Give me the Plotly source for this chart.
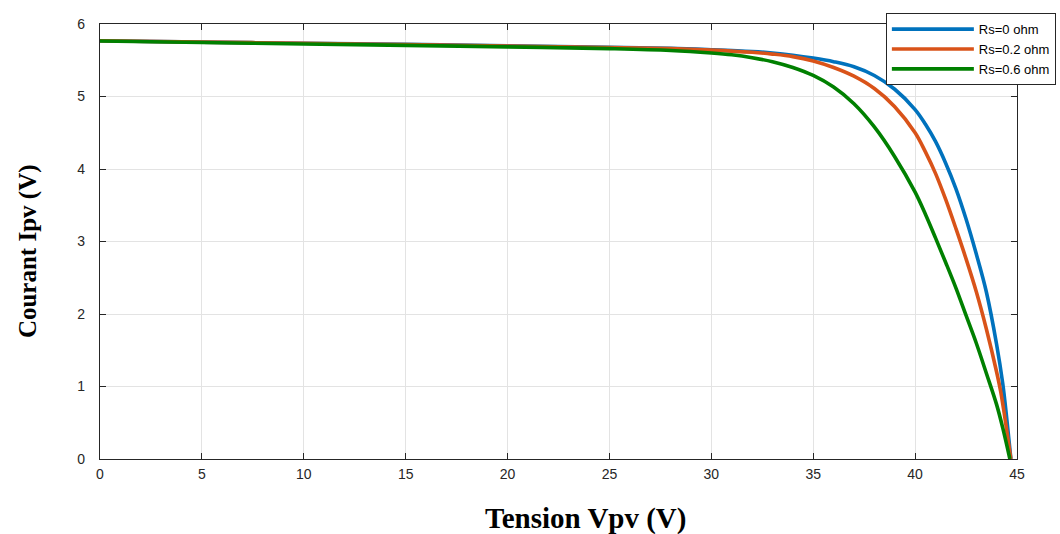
import plotly.graph_objects as go

# Rs = 0 ohm
v_rs0 = [0, 5, 10, 15, 20, 25, 28, 30, 32, 33, 34, 35, 36, 37, 38, 39, 40, 40.5, 41, 41.5, 42, 42.5, 43, 43.5, 44, 44.3, 44.5, 44.7]
i_rs0 = [5.77, 5.75, 5.735, 5.72, 5.70, 5.68, 5.665, 5.645, 5.62, 5.60, 5.57, 5.53, 5.48, 5.41, 5.29, 5.10, 4.82, 4.62, 4.38, 4.08, 3.73, 3.31, 2.83, 2.30, 1.58, 1.04, 0.55, 0.0]

# Rs = 0.2 ohm
v_rs02 = [0, 5, 10, 15, 20, 25, 28, 30, 32, 33, 34, 35, 36, 37, 38, 39, 40, 40.5, 41, 41.5, 42, 42.5, 43, 43.5, 44, 44.2, 44.4, 44.7]
i_rs02 = [5.77, 5.75, 5.735, 5.715, 5.695, 5.675, 5.66, 5.64, 5.61, 5.585, 5.55, 5.49, 5.40, 5.28, 5.11, 4.86, 4.50, 4.24, 3.94, 3.58, 3.18, 2.76, 2.31, 1.79, 1.20, 0.93, 0.58, 0.0]

# Rs = 0.6 ohm
v_rs06 = [0, 5, 10, 15, 20, 25, 28, 30, 31, 32, 33, 34, 35, 36, 37, 38, 39, 40, 40.5, 41, 41.5, 42, 42.5, 43, 43.5, 44, 44.3, 44.65]
i_rs06 = [5.765, 5.745, 5.725, 5.705, 5.685, 5.66, 5.635, 5.60, 5.575, 5.535, 5.48, 5.40, 5.29, 5.13, 4.90, 4.58, 4.17, 3.68, 3.38, 3.05, 2.71, 2.36, 1.98, 1.60, 1.18, 0.75, 0.43, 0.0]

names = ["Rs=0 ohm", "Rs=0.2 ohm", "Rs=0.6 ohm"]
colors = ["#0072BD", "#D95319", "#008000"]

x_ticks = [0, 5, 10, 15, 20, 25, 30, 35, 40, 45]
y_ticks = [0, 1, 2, 3, 4, 5, 6]

fig = go.Figure()
for v, i, n, c in zip([v_rs0, v_rs02, v_rs06], [i_rs0, i_rs02, i_rs06], names, colors):
    fig.add_trace(go.Scatter(x=v, y=i, mode="lines", name=n,
                             line=dict(color=c, width=3.6, shape="spline", smoothing=1.0)))

axis_common = dict(
    showline=True, linecolor="#262626", linewidth=1.2, mirror="allticks",
    ticks="inside", ticklen=6, tickcolor="#262626", tickwidth=1,
    showgrid=True, gridcolor="#e3e3e3", gridwidth=1, zeroline=False,
    tickfont=dict(family="Liberation Sans, Arial", size=14, color="#262626"),
)

fig.update_layout(
    width=1060, height=534,
    margin=dict(l=100, r=43, t=24, b=75, autoexpand=False),
    paper_bgcolor="white", plot_bgcolor="white",
    xaxis=dict(range=[0, 45], tickvals=x_ticks, ticktext=[str(t) for t in x_ticks],
               ticklabelstandoff=2, **axis_common),
    yaxis=dict(range=[0, 6], tickvals=y_ticks, ticktext=[str(t) for t in y_ticks],
               ticklabelstandoff=11, **axis_common),
    legend=dict(x=0.857, y=1.025, xanchor="left", yanchor="top",
                bgcolor="white", bordercolor="#262626", borderwidth=1,
                font=dict(family="Liberation Sans, Arial", size=13, color="black"),
                itemwidth=82, tracegroupgap=0),
    showlegend=True,
    annotations=[
        dict(text="<b>Tension Vpv (V)</b>", xref="paper", yref="paper", x=0.529, y=-0.136,
             xanchor="center", yanchor="middle", showarrow=False,
             font=dict(family="Liberation Serif, Times New Roman", size=29, color="black")),
        dict(text="<b>Courant Ipv (V)</b>", xref="paper", yref="paper", x=-0.0785, y=0.478,
             xanchor="center", yanchor="middle", showarrow=False, textangle=-90,
             font=dict(family="Liberation Serif, Times New Roman", size=25, color="black")),
    ],
)

fig.write_html("out.html")
